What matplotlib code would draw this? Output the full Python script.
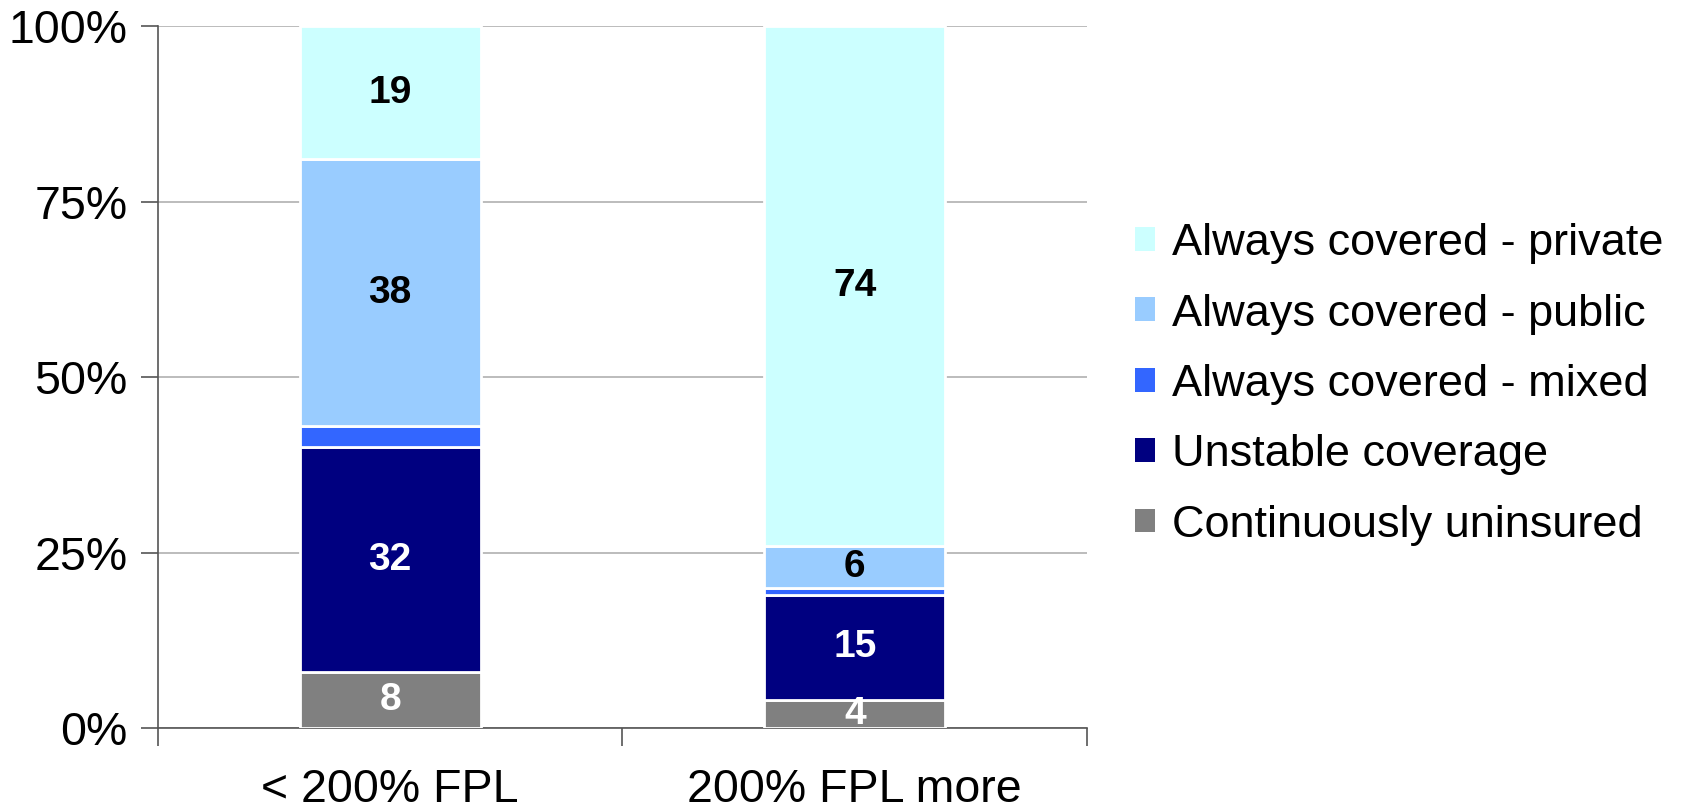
import matplotlib.pyplot as plt
from matplotlib.patches import Patch
from matplotlib.ticker import FixedLocator, PercentFormatter
import numpy as np

plt.rcParams['font.family'] = ['Liberation Sans', 'DejaVu Sans']

groups = ['< 200% FPL', '200% FPL more']
series = ['Continuously uninsured', 'Unstable coverage', 'Always covered - mixed',
          'Always covered - public', 'Always covered - private']
uninsured = [8, 4]
unstable = [32, 15]
mixed = [3, 1]
public = [38, 6]
private = [19, 74]
colors = ['#808080', '#000080', '#3366FF', '#99CCFF', '#CCFFFF']
text_colors = ['white', 'white', None, 'black', 'black']

fig = plt.figure(figsize=(16.89, 8.11), dpi=100)
ax = fig.add_axes([0.0935, 0.1023, 0.5501, 0.8656])

x = np.arange(len(groups))
bottom = np.zeros(len(groups))
for name, vals, col, tc in zip(series, [uninsured, unstable, mixed, public, private],
                               colors, text_colors):
    vals = np.array(vals, dtype=float)
    ax.bar(x, vals, width=0.39, bottom=bottom, color=col, edgecolor='white',
           linewidth=2, zorder=3, label=name)
    if tc is not None:
        for xi, b, v in zip(x, bottom, vals):
            ax.text(xi, b + v / 2, f'{v:.0f}', ha='center', va='center',
                    color=tc, fontsize=28, fontweight='bold', zorder=4)
    bottom += vals

ax.set_xlim(-0.5, 1.5)
ax.set_ylim(0, 100)
ax.yaxis.set_major_locator(FixedLocator([0, 25, 50, 75, 100]))
ax.yaxis.set_major_formatter(PercentFormatter(decimals=0))
ax.grid(axis='y', color='#B0B0B0', linewidth=1.2, zorder=0)

ax.set_xticks(x)
ax.set_xticklabels(groups)
ax.xaxis.set_minor_locator(FixedLocator([-0.5, 0.5, 1.5]))
ax.tick_params(axis='x', which='major', length=0, pad=29, labelsize=33.5)
ax.tick_params(axis='x', which='minor', length=13, width=1.2, color='#555555')
ax.tick_params(axis='y', length=12, width=1.2, color='#555555', pad=10, labelsize=33.5)

for s in ['top', 'right']:
    ax.spines[s].set_visible(False)
for s in ['left', 'bottom']:
    ax.spines[s].set_color('#555555')
    ax.spines[s].set_linewidth(1.2)

handles = [Patch(facecolor=c, edgecolor='none') for c in colors][::-1]
fig.legend(handles, series[::-1], loc='center left', bbox_to_anchor=(0.672, 0.526),
           frameon=False, fontsize=32.5, handlelength=0.44, handleheight=0.44,
           handletextpad=0.37, labelspacing=0.65, borderpad=0, borderaxespad=0)

fig.savefig('out.png', dpi=100)
